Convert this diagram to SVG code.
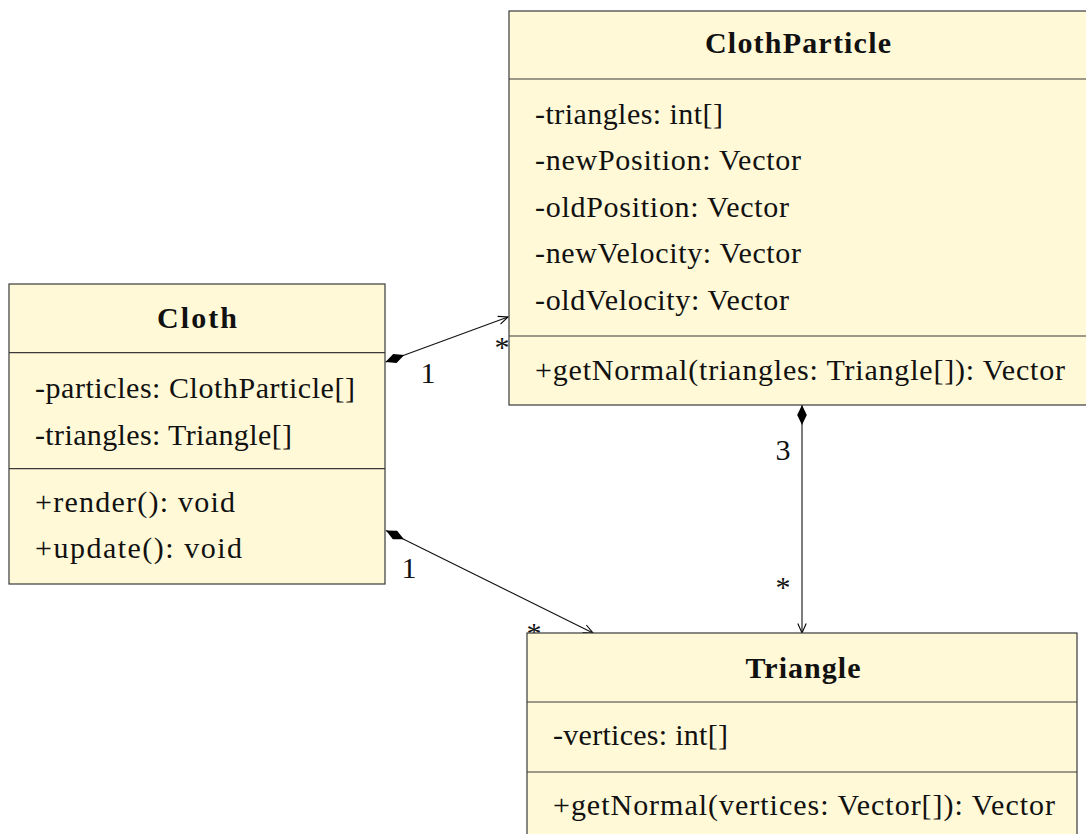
<svg xmlns="http://www.w3.org/2000/svg" width="1086" height="834" viewBox="0 0 1086 834">
<style>
.box{fill:#fff9d7;stroke:#3a3a3a;stroke-width:1.2}
.div{stroke:#3a3a3a;stroke-width:1.2;fill:none}
text{font-family:"Liberation Serif","Times New Roman",serif;font-size:30px;fill:#111}
.title{font-weight:bold;text-anchor:middle}
.lbl{text-anchor:middle}
.conn{stroke:#111;stroke-width:1.1;fill:none;marker-start:url(#diamond);marker-end:url(#arrow)}
</style>
<defs>
<marker id="diamond" markerUnits="userSpaceOnUse" markerWidth="22" markerHeight="14" refX="0" refY="7" orient="auto"><path d="M0,7 L10,2.2 L20,7 L10,11.8 Z" fill="#000"/></marker>
<marker id="arrow" markerUnits="userSpaceOnUse" markerWidth="12" markerHeight="12" refX="10" refY="6" orient="auto"><path d="M0.5,1.8 L10,6 L0.5,10.2" fill="none" stroke="#000" stroke-width="1.1"/></marker>
</defs>
<g id="connectors">
<path class="conn" d="M385.5,362 L508,317"/>
<path class="conn" d="M386,530.5 L593,633"/>
<path class="conn" d="M802,405 L802,633"/>
<text class="lbl" x="428" y="383">1</text>
<text class="lbl" x="502" y="357">*</text>
<text class="lbl" x="409" y="578">1</text>
<text class="lbl" x="534" y="643">*</text>
<text class="lbl" x="783" y="460">3</text>
<text class="lbl" x="783" y="597">*</text>
</g>
<g id="Cloth">
<rect class="box" x="9" y="284" width="376" height="300"/>
<line class="div" x1="9" y1="352.7" x2="385" y2="352.7"/>
<line class="div" x1="9" y1="468.7" x2="385" y2="468.7"/>
<text class="title" x="197" y="328" textLength="80">Cloth</text>
<text x="35" y="398" textLength="320">-particles: ClothParticle[]</text>
<text x="35" y="445" textLength="257">-triangles: Triangle[]</text>
<text x="35" y="512" textLength="200">+render(): void</text>
<text x="35" y="558" textLength="207">+update(): void</text>
</g>
<g id="ClothParticle">
<rect class="box" x="509" y="11" width="580" height="394"/>
<line class="div" x1="509" y1="79" x2="1089" y2="79"/>
<line class="div" x1="509" y1="336" x2="1089" y2="336"/>
<text class="title" x="798" y="53" textLength="186">ClothParticle</text>
<text x="535" y="124" textLength="188">-triangles: int[]</text>
<text x="535" y="170" textLength="266">-newPosition: Vector</text>
<text x="535" y="217" textLength="254">-oldPosition: Vector</text>
<text x="535" y="263" textLength="266">-newVelocity: Vector</text>
<text x="535" y="310" textLength="254">-oldVelocity: Vector</text>
<text x="535" y="380" textLength="530">+getNormal(triangles: Triangle[]): Vector</text>
</g>
<g id="Triangle">
<rect class="box" x="527" y="633" width="550" height="220"/>
<line class="div" x1="527" y1="702" x2="1077" y2="702"/>
<line class="div" x1="527" y1="772" x2="1077" y2="772"/>
<text class="title" x="803" y="678" textLength="115">Triangle</text>
<text x="553" y="745" textLength="175">-vertices: int[]</text>
<text x="553" y="815" textLength="502">+getNormal(vertices: Vector[]): Vector</text>
</g>
</svg>
